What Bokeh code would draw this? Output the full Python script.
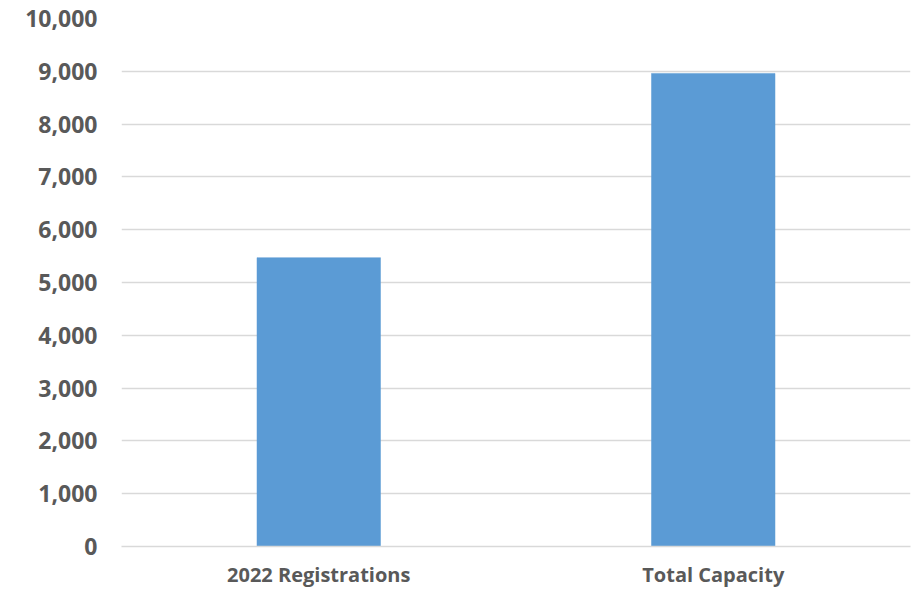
from bokeh.plotting import figure
from bokeh.models import ColumnDataSource, FixedTicker, NumeralTickFormatter, Range1d, FactorRange
from bokeh.embed import file_html
from bokeh.resources import INLINE

categories = ["2022 Registrations", "Total Capacity"]
values = [5470, 8960]
y_ticks = [0, 1000, 2000, 3000, 4000, 5000, 6000, 7000, 8000, 9000, 10000]

BAR = "#5B9BD5"
TEXT = "#595959"
GRID = "#D9D9D9"
FONT = "Open Sans"

source = ColumnDataSource(data=dict(cat=categories, val=values))

p = figure(
    x_range=FactorRange(*categories, range_padding=0),
    y_range=Range1d(0, 10000),
    width=912, height=590,
    output_backend="svg", toolbar_location=None,
    min_border_left=121, min_border_right=2, min_border_top=18, min_border_bottom=40,
)
p.vbar(x="cat", top="val", width=0.313, source=source, fill_color=BAR, line_color=BAR, line_width=0.5)

p.outline_line_color = None
p.background_fill_color = "white"
p.border_fill_color = "white"

p.xgrid.grid_line_color = None
p.ygrid.grid_line_color = GRID
p.ygrid.grid_line_width = 1.5
p.ygrid.level = "underlay"

p.yaxis.ticker = FixedTicker(ticks=y_ticks)
p.yaxis.formatter = NumeralTickFormatter(format="0,0")
p.yaxis.axis_line_color = None
p.yaxis.major_tick_line_color = None
p.yaxis.minor_tick_line_color = None
p.yaxis.major_label_text_font = FONT
p.yaxis.major_label_text_font_style = "bold"
p.yaxis.major_label_text_font_size = "23px"
p.yaxis.major_label_text_color = TEXT
p.yaxis.major_label_standoff = 18

p.xaxis.axis_line_color = GRID
p.xaxis.axis_line_width = 1.5
p.xaxis.major_tick_line_color = None
p.xaxis.minor_tick_line_color = None
p.xaxis.major_label_text_font = FONT
p.xaxis.major_label_text_font_style = "bold"
p.xaxis.major_label_text_font_size = "20px"
p.xaxis.major_label_text_color = TEXT
p.xaxis.major_label_standoff = 8

open("out.html", "w").write(file_html(p, INLINE))
